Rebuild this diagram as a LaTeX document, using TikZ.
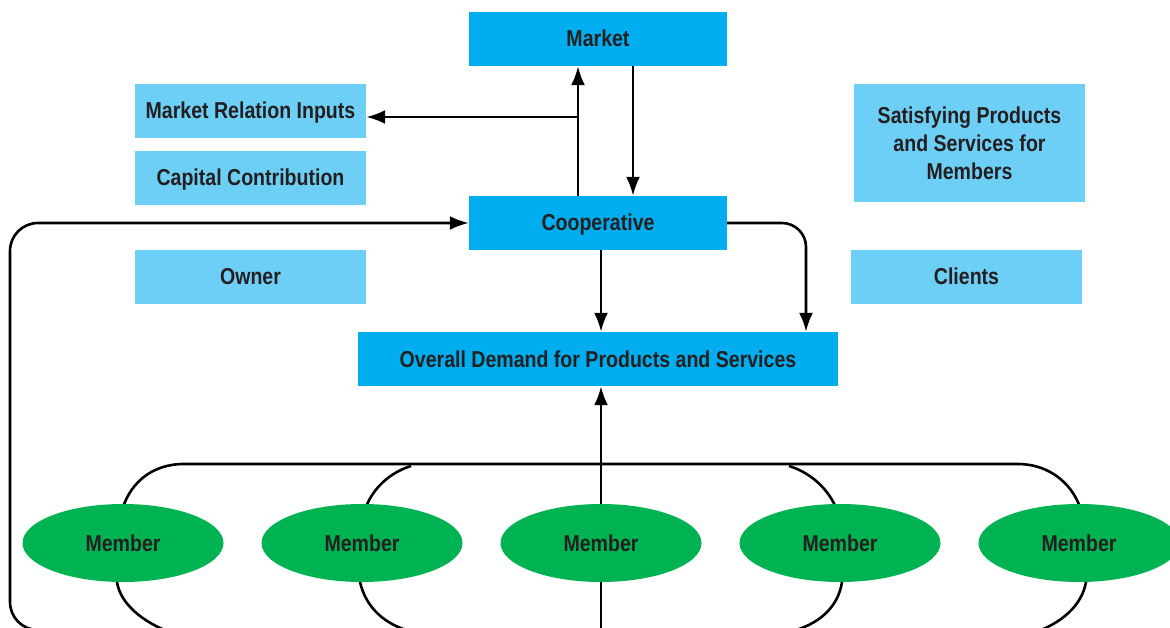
\documentclass[tikz,border=0pt]{standalone}
\usepackage{fontspec}
\setmainfont{Liberation Sans}[FakeStretch=0.85,BoldFont={Liberation Sans Bold},BoldFeatures={FakeStretch=0.85}]
\usetikzlibrary{arrows.meta,shapes.geometric}
\definecolor{dark}{HTML}{00AEEF}
\definecolor{light}{HTML}{6DCFF6}
\definecolor{memgreen}{HTML}{00B352}
\definecolor{txt}{HTML}{231F20}
\tikzset{
  lbl/.style={font=\fontsize{23}{28}\selectfont\bfseries, text=txt, align=center, inner sep=0pt},
  oneline/.style={text height=16pt, text depth=0pt},
  darkbox/.style={lbl, oneline, fill=dark, minimum height=54pt},
  lightbox/.style={lbl, oneline, fill=light, minimum width=231pt, minimum height=54pt},
  satbox/.style={lbl, fill=light, minimum width=231pt, minimum height=118pt},
  member/.style={lbl, oneline, ellipse, fill=memgreen, minimum width=201pt, minimum height=78pt},
  conn/.style={line width=2.6pt, draw=black},
  arr/.style={conn, -{Latex[length=19pt,width=14pt]}},
}
\begin{document}
\begin{tikzpicture}[x=1pt,y=-1pt]
\useasboundingbox (0,0) rectangle (1170,628);
\clip (0,0) rectangle (1170,628);
% boxes
\node[darkbox, minimum width=258pt] (market) at (598,39) {Market};
\node[lightbox] (mri) at (250.5,111) {Market Relation Inputs};
\node[lightbox] (cap) at (250.5,178) {Capital Contribution};
\node[satbox] (sat) at (969.5,143) {Satisfying Products\\and Services for\\Members};
\node[darkbox, minimum width=258pt] (coop) at (598,223) {Cooperative};
\node[lightbox] (owner) at (250.5,277) {Owner};
\node[lightbox] (clients) at (966.5,277) {Clients};
\node[darkbox, minimum width=480pt] (demand) at (598,359) {Overall Demand for Products and Services};
% connectors
\coordinate (br) at (578,117);
\draw[arr] ([xshift=-20pt]coop.north) -- ([xshift=-20pt]market.south);
\draw[arr] (br) -- (mri.east |- br);
\draw[arr] ([xshift=35pt]market.south) -- ([xshift=35pt]coop.north);
\draw[arr, rounded corners=24pt] (coop.east) -| ([xshift=208pt]demand.north);
\draw[arr] ([xshift=3pt]coop.south) -- ([xshift=3pt]demand.north);
\coordinate (lb) at (90,630);
\draw[arr, rounded corners=28pt] (lb) -| (10,223) -- (coop.west);
\coordinate (bm) at (601,640);
\draw[arr] (bm) -- ([xshift=3pt]demand.south);
% member outline
\draw[conn] (175,634) .. controls (140,622) and (120,602) .. (117,582) -- (121,514)
  .. controls (128,485) and (150,464) .. (184,464) -- (1018,464)
  .. controls (1050,464) and (1075,485) .. (1082,514) -- (1086,582)
  .. controls (1082,605) and (1062,624) .. (1030,634);
\draw[conn] (411,466) .. controls (385,474) and (368,495) .. (364,514);
\draw[conn] (360,582) .. controls (366,608) and (385,625) .. (413,632);
\draw[conn] (789,466) .. controls (815,474) and (833,495) .. (838,514);
\draw[conn] (842,582) .. controls (838,608) and (818,625) .. (789,632);
% members
\node[member] (m1) at (123,543) {Member};
\node[member] (m2) at (362,543) {Member};
\node[member] (m3) at (601,543) {Member};
\node[member] (m4) at (840,543) {Member};
\node[member] (m5) at (1079,543) {Member};
\end{tikzpicture}
\end{document}
